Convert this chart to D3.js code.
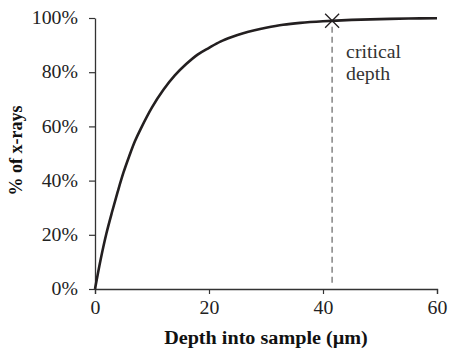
<!DOCTYPE html>
<html>
<head>
<meta charset="utf-8">
<script src="https://cdn.jsdelivr.net/npm/d3@7"></script>
<style>
  body { margin: 0; background: #fff; }
  svg text { font-family: "Liberation Serif", serif; }
</style>
</head>
<body>
<svg id="chart" width="450" height="350"></svg>
<script>
// depth (µm) vs cumulative % of x-rays
const depths = [0, 1, 2, 3, 4, 5, 6, 7, 8, 10, 12, 14, 16, 18, 20, 22, 24, 26, 28, 30, 33, 36, 40, 45, 50, 55, 60];
const percents = [0, 11, 20.5, 28.5, 36, 43, 49, 54.5, 59, 67, 73.5, 78.8, 83, 86.5, 89, 91.3, 93, 94.4, 95.5, 96.4, 97.5, 98.2, 98.8, 99.3, 99.6, 99.8, 99.9];
const xTicks = [0, 20, 40, 60];
const yTicks = [0, 20, 40, 60, 80, 100];
const criticalDepth = 41.6;
const criticalPercent = 99;

const svg = d3.select("#chart");
const margin = { top: 18, right: 12, bottom: 61, left: 95 };
const width = 450, height = 350;

const x = d3.scaleLinear().domain([0, 60]).range([margin.left, 437]);
const y = d3.scaleLinear().domain([0, 100]).range([height - margin.bottom, margin.top]);

const axisColor = "#333";
const fontSize = "18px";

// the reference text is a little wider than this font, so stretch it sideways
function widen(sel, k = 1.1) {
  sel.each(function () {
    const len = this.getComputedTextLength();
    d3.select(this).attr("textLength", len * k).attr("lengthAdjust", "spacingAndGlyphs");
  });
}

const xAxis = svg.append("g")
  .attr("transform", `translate(0,${y(0)})`)
  .call(d3.axisBottom(x).tickValues(xTicks).tickSize(5).tickSizeOuter(5).tickPadding(7));

const yAxis = svg.append("g")
  .attr("transform", `translate(${x(0)},0)`)
  .call(d3.axisLeft(y).tickValues(yTicks).tickSize(6).tickSizeOuter(0).tickPadding(11)
    .tickFormat(d => d + "%"));

[xAxis, yAxis].forEach(g => {
  g.select(".domain").attr("stroke", axisColor).attr("stroke-width", 1.3);
  g.selectAll(".tick line").attr("stroke", axisColor).attr("stroke-width", 1.2);
  g.selectAll(".tick text")
    .attr("fill", "#222")
    .style("font-size", fontSize)
    .style("font-family", "'Liberation Serif', serif")
    .call(widen);
});

// dashed line at critical depth
svg.append("line")
  .attr("x1", x(criticalDepth)).attr("x2", x(criticalDepth))
  .attr("y1", y(criticalPercent) + 6).attr("y2", y(0) - 3)
  .attr("stroke", "#8c8c8c")
  .attr("stroke-width", 1.6)
  .attr("stroke-dasharray", "6,4");

const line = d3.line()
  .x((d, i) => x(depths[i]))
  .y(d => y(d))
  .curve(d3.curveCatmullRom);

svg.append("path")
  .datum(percents)
  .attr("d", line)
  .attr("fill", "none")
  .attr("stroke", "#231f20")
  .attr("stroke-width", 2.6);

// cross marker
const cx = x(criticalDepth), cy = y(criticalPercent);
const s = 7;
svg.append("path")
  .attr("d", `M${cx - s},${cy - s}L${cx + s},${cy + s}M${cx - s},${cy + s}L${cx + s},${cy - s}`)
  .attr("stroke", "#231f20")
  .attr("stroke-width", 1.3)
  .attr("fill", "none");

svg.append("text")
  .attr("x", cx + 14).attr("y", 58)
  .attr("fill", "#333")
  .style("font-size", fontSize)
  .text("critical")
  .call(widen);
svg.append("text")
  .attr("x", cx + 14).attr("y", 80)
  .attr("fill", "#333")
  .style("font-size", fontSize)
  .text("depth")
  .call(widen);

svg.append("text")
  .attr("x", 266)
  .attr("y", 344)
  .attr("text-anchor", "middle")
  .attr("fill", "#111")
  .style("font-size", fontSize)
  .style("font-weight", "bold")
  .text("Depth into sample (µm)")
  .call(widen, 1.12);

svg.append("text")
  .attr("transform", `translate(22,${(y(0) + y(100)) / 2 - 3}) rotate(-90)`)
  .attr("text-anchor", "middle")
  .attr("fill", "#111")
  .style("font-size", fontSize)
  .style("font-weight", "bold")
  .text("% of x-rays");
</script>
</body>
</html>
